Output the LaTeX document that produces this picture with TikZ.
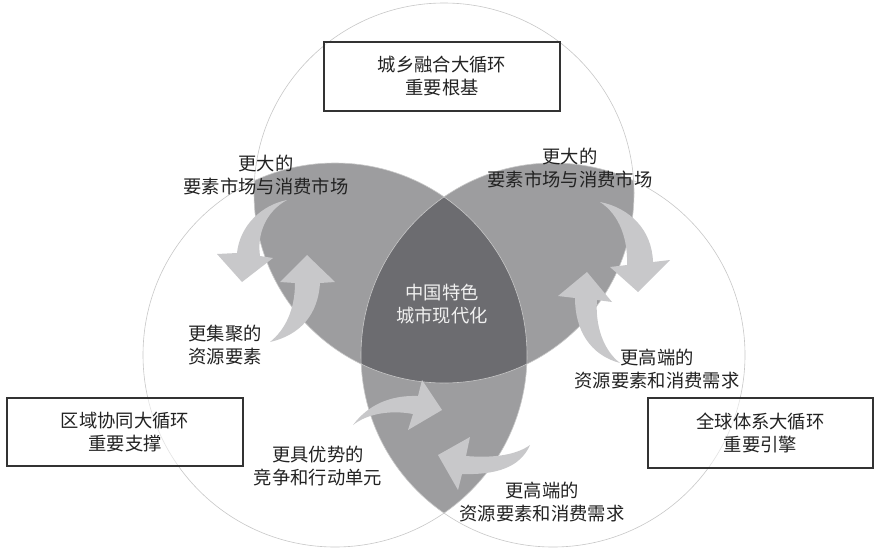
\documentclass[tikz,border=0pt]{standalone}
\usepackage{fontspec}
\newfontfamily\cjk{Noto Sans CJK SC}
\definecolor{pairc}{HTML}{9D9D9F}
\definecolor{triplec}{HTML}{6C6C70}
\definecolor{arrc}{HTML}{C8C8CA}
\definecolor{ringc}{HTML}{C8C8C8}
\definecolor{boxc}{HTML}{333333}
\definecolor{txt}{HTML}{222222}
\begin{document}
\begin{tikzpicture}[x=1pt,y=-1pt,
  lbl/.style={font=\cjk\fontsize{18.3}{23}\selectfont, align=center, text=txt, inner sep=0pt},
  wlbl/.style={lbl, text=white!94!black},
  boxnode/.style={lbl, draw=boxc, line width=1.1pt, fill=white, fill opacity=0.5, text opacity=1, minimum width=236pt, minimum height=69pt},
  ring/.style={draw=ringc, line width=0.6pt},
  arr/.style={fill=arrc}]
\useasboundingbox (0,0) rectangle (880,549);
\fill[white] (0,0) rectangle (880,549);
\coordinate (ctop) at (444,193);
\coordinate (cleft) at (335,355);
\coordinate (cright) at (553,355);
% pair intersections
\begin{scope}
  \clip (ctop) circle[radius=190pt];
  \fill[pairc] (cleft) circle[radius=192pt];
  \fill[pairc] (cright) circle[radius=192pt];
\end{scope}
\begin{scope}
  \clip (cleft) circle[radius=192pt];
  \fill[pairc] (cright) circle[radius=192pt];
\end{scope}
\begin{scope}
  \clip (ctop) circle[radius=190pt];
  \clip (cleft) circle[radius=192pt];
  \fill[triplec] (cright) circle[radius=192pt];
\end{scope}
% outlines
\draw[ring] (ctop) circle[radius=190pt];
\draw[ring] (cleft) circle[radius=192pt];
\draw[ring] (cright) circle[radius=192pt];
% arrows
\fill[arr] (287,200) .. controls (262,205) and (240,225) .. (237,253) -- (217,254) -- (242,282) -- (273,258) -- (260,256) .. controls (257,235) and (265,212) .. (287,200) -- cycle;
\fill[arr] (270,342) .. controls (285,330) and (295,310) .. (295,283) -- (280,282) -- (307,255) -- (335,282) -- (320,283) .. controls (318,315) and (300,335) .. (270,342) -- cycle;
\fill[arr] (600,202) .. controls (630,208) and (652,230) .. (653,262) -- (670,260) -- (638,292) -- (610,267) -- (627,265) .. controls (628,240) and (620,215) .. (600,202) -- cycle;
\fill[arr] (620,363) .. controls (590,355) and (575,330) .. (575,298) -- (558,296) -- (587,272) -- (612,302) -- (597,300) .. controls (595,325) and (603,350) .. (620,363) -- cycle;
\fill[arr] (353,425) .. controls (368,405) and (390,395) .. (418,396) -- (422,380) -- (442,410) -- (408,430) -- (413,414) .. controls (392,410) and (368,413) .. (353,425) -- cycle;
\fill[arr] (530,445) .. controls (520,468) and (495,475) .. (462,474) -- (458,490) -- (438,455) -- (470,437) -- (466,456) .. controls (490,458) and (515,456) .. (530,445) -- cycle;
% boxes
\node[boxnode] (btop) at (442,76.5) {城乡融合大循环\\重要根基};
\node[boxnode, minimum height=68pt] (bleft) at (125,432) {区域协同大循环\\重要支撑};
\node[boxnode, minimum width=225pt, minimum height=70pt] (bright) at (760.5,433) {全球体系大循环\\重要引擎};
% labels
\node[lbl] (l1) at (266,175) {更大的\\要素市场与消费市场};
\node[lbl] (l2) at (570,168) {更大的\\要素市场与消费市场};
\node[lbl] (l3) at (225,345) {更集聚的\\资源要素};
\node[wlbl] (l4) at (442,304) {中国特色\\城市现代化};
\node[lbl] (l5) at (657,369) {更高端的\\资源要素和消费需求};
\node[lbl] (l6) at (318,466.5) {更具优势的\\竞争和行动单元};
\node[lbl] (l7) at (542,502.5) {更高端的\\资源要素和消费需求};
\end{tikzpicture}
\end{document}
